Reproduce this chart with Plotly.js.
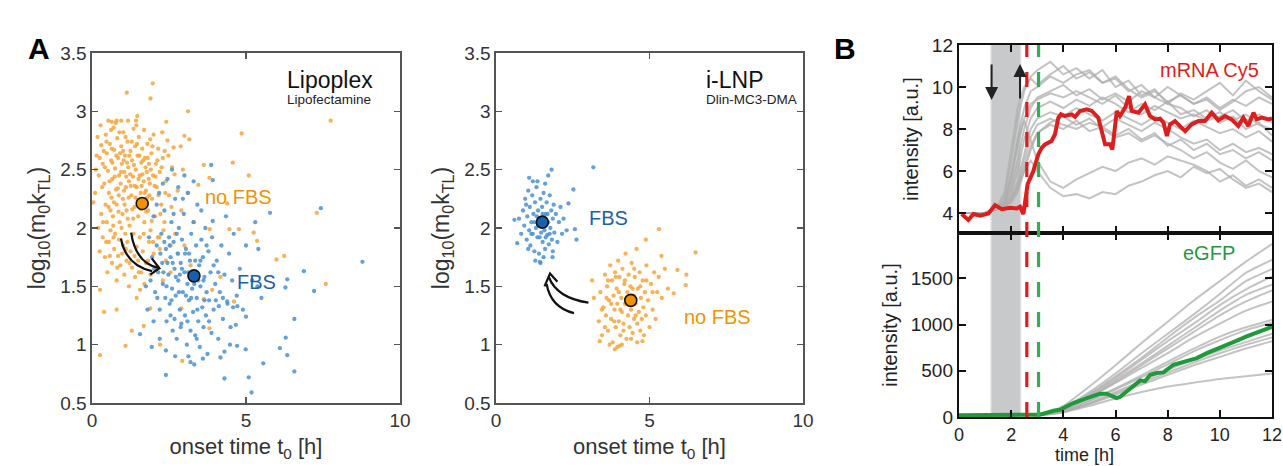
<!DOCTYPE html>
<html><head><meta charset="utf-8">
<script src="https://cdn.plot.ly/plotly-3.0.1.min.js"></script>
<style>html,body{margin:0;padding:0;background:#fff}#chart{width:1283px;height:466px}</style>
</head><body><div id="chart"></div>
<script>
// ---------- Panel A: Lipoplex (Lipofectamine) ----------
const lipoNoFBS = [
[0.15,2.62],[0.22,2.45],[0.30,2.71],[0.35,2.55],[0.40,2.38],[0.45,2.80],[0.48,2.64],[0.52,2.49],[0.55,2.30],[0.58,2.72],
[0.60,2.15],[0.62,2.58],[0.66,2.42],[0.70,2.86],[0.72,2.67],[0.75,2.51],[0.78,2.33],[0.80,2.20],[0.82,2.77],[0.85,2.60],
[0.88,2.45],[0.90,2.05],[0.93,2.38],[0.95,2.70],[0.97,2.55],[1.00,2.25],[1.02,2.82],[1.05,2.48],[1.07,2.62],[1.10,2.35],
[1.12,2.15],[1.15,2.74],[1.18,2.52],[1.20,2.40],[1.22,2.02],[1.25,2.66],[1.28,2.28],[1.30,2.58],[1.33,2.44],[1.35,2.85],
[1.38,2.18],[1.40,2.70],[1.42,2.50],[1.45,2.35],[1.48,2.62],[1.50,2.10],[1.52,2.78],[1.55,2.45],[1.58,2.30],[1.60,2.56],
[1.63,2.68],[1.65,2.20],[1.68,2.40],[1.70,2.05],[1.72,2.60],[1.75,2.32],[1.78,2.48],[1.80,2.72],[1.82,2.15],[1.85,2.55],
[1.88,2.38],[1.90,1.98],[1.93,2.64],[1.95,2.25],[1.98,2.45],[2.00,2.80],[2.05,2.10],[2.08,2.55],[2.10,2.35],[2.15,2.68],
[2.18,1.92],[2.20,2.48],[2.25,2.20],[2.30,2.60],[2.35,2.05],[2.40,2.40],[2.45,2.75],[2.50,2.28],[2.55,1.85],[2.60,2.52],
[0.20,2.00],[0.25,1.80],[0.30,2.12],[0.35,1.92],[0.42,1.75],[0.48,2.05],[0.50,1.62],[0.55,1.88],[0.60,1.98],[0.65,1.70],
[0.68,2.10],[0.72,1.82],[0.75,1.95],[0.80,1.55],[0.85,1.76],[0.88,1.90],[0.92,1.68],[0.96,2.00],[1.00,1.85],[1.05,1.60],
[1.08,1.95],[1.12,1.72],[1.15,1.88],[1.20,1.50],[1.25,1.80],[1.30,1.66],[1.35,1.95],[1.40,1.58],[1.45,1.84],[1.50,1.72],
[1.55,1.92],[1.60,1.62],[1.65,1.80],[1.70,1.52],[1.75,1.70],[1.85,1.88],[1.90,1.60],[2.00,1.78],[2.10,1.65],[2.20,1.82],
[2.30,1.55],[2.40,1.72],[2.55,1.62],[2.70,1.95],[2.80,1.78],[2.90,2.15],[3.00,1.85],[3.10,2.30],[3.20,1.68],[3.30,2.05],
[0.10,2.30],[0.18,2.78],[0.28,2.88],[0.38,2.66],[0.44,2.20],[0.53,2.92],[0.63,2.26],[0.69,2.02],[0.77,2.90],[0.84,2.34],
[0.91,2.64],[0.99,2.12],[1.04,2.32],[1.09,2.78],[1.14,2.56],[1.19,2.26],[1.24,2.46],[1.29,2.74],[1.34,2.08],[1.39,2.36],
[1.44,2.88],[1.49,2.24],[1.54,2.62],[1.59,2.16],[1.64,2.46],[1.69,2.84],[1.74,2.52],[1.79,2.26],[1.84,2.42],[1.89,2.76],
[1.94,2.06],[2.03,2.36],[2.12,2.58],[2.22,2.12],[2.28,2.82],[2.38,2.30],[2.48,2.62],[2.58,2.18],[2.68,2.46],[2.78,2.32],
[2.88,2.70],[2.95,2.50],
[0.12,2.50],[0.25,2.60],[0.33,2.35],[0.42,2.52],[0.47,2.74],[0.57,2.40],[0.64,2.68],[0.71,2.22],[0.74,2.44],[0.79,2.62],
[0.86,2.14],[0.89,2.82],[0.94,2.48],[1.01,2.66],[1.06,2.20],[1.11,2.44],[1.16,2.08],[1.21,2.62],[1.26,2.36],[1.31,2.16],
[1.36,2.54],[1.41,2.26],[1.46,2.72],[1.51,2.42],[1.56,2.18],[1.61,2.36],[1.66,2.58],[1.71,2.30],[1.76,2.14],[1.81,2.60],
[1.86,2.28],[1.91,2.50],[1.96,2.70],[2.06,2.44],[2.16,2.28],[2.26,2.52],[2.36,2.66],[0.36,2.05],[0.46,1.88],[0.58,1.76],
[0.70,1.92],[0.82,1.66],[0.98,1.78],[1.10,1.82],[1.22,1.70],[1.38,1.76],[1.52,1.62],[1.68,1.95],[1.82,1.72],[1.98,1.88],
[2.14,1.92],[2.32,1.98],[0.54,2.18],[0.66,2.56],[0.87,2.28],[1.03,2.58],[1.17,2.92],[1.47,2.96],[0.62,2.84],[0.95,2.92],
[1.97,3.24],[1.13,3.16],[1.90,3.11],[3.12,3.00],[7.75,2.92],[4.86,2.81],[0.64,2.91],[0.80,2.92],[1.43,2.92],[2.41,2.91],
[3.00,2.79],[3.16,2.76],[2.65,2.69],[3.63,2.54],[4.57,2.56],[5.09,2.45],[3.81,2.43],[3.45,2.37],[0.04,2.22],[7.30,2.13],
[4.39,2.21],[4.77,1.99],[5.25,1.96],[3.82,1.99],[4.46,1.99],[5.36,1.89],[5.99,1.73],[6.24,1.76],[7.59,1.52],[4.17,1.58],
[0.26,1.47],[0.39,1.28],[0.80,1.30],[0.26,0.91],[1.09,0.99],[1.29,1.12],[1.68,1.16],[2.93,0.86],[2.21,1.00],[3.81,1.14],
[3.63,1.39],[3.90,1.47],[2.90,1.31],[1.89,1.31],[1.56,1.47],[1.45,1.40],[4.61,1.37]
];
const lipoFBS = [
[1.85,1.92],[1.90,1.55],[1.95,1.75],[2.00,2.10],[2.05,1.45],[2.10,1.85],[2.15,1.62],[2.18,2.30],[2.20,1.30],[2.25,1.95],
[2.28,1.70],[2.30,1.52],[2.35,2.15],[2.38,1.40],[2.40,1.82],[2.42,1.20],[2.45,2.42],[2.48,1.60],[2.50,1.92],[2.52,1.35],
[2.55,1.75],[2.58,2.05],[2.60,1.48],[2.62,1.12],[2.65,1.88],[2.68,1.65],[2.70,2.25],[2.72,1.42],[2.75,1.05],[2.78,1.78],
[2.80,1.55],[2.82,2.00],[2.85,1.30],[2.88,1.70],[2.90,1.18],[2.92,1.90],[2.95,1.45],[2.98,2.12],[3.00,1.62],[3.02,1.25],
[3.05,1.82],[3.08,1.00],[3.10,1.52],[3.12,2.30],[3.15,1.38],[3.18,1.72],[3.20,1.12],[3.22,1.95],[3.25,1.48],[3.28,1.28],
[3.30,2.05],[3.32,1.62],[3.35,1.08],[3.38,1.85],[3.40,1.40],[3.42,2.20],[3.45,1.20],[3.48,1.68],[3.50,0.98],[3.52,1.50],
[3.55,1.90],[3.58,1.32],[3.60,1.75],[3.62,1.15],[3.65,1.58],[3.68,2.00],[3.70,1.25],[3.72,1.45],[3.75,0.92],[3.78,1.80],
[3.80,1.38],[3.85,1.62],[3.88,1.10],[3.90,1.92],[3.95,1.30],[4.00,1.52],[4.05,1.72],[4.10,1.05],[4.15,1.45],[4.20,1.85],
[4.25,1.22],[4.30,1.60],[4.35,2.10],[4.40,1.35],[4.45,1.78],[4.50,1.15],[4.55,1.55],[4.60,1.95],[4.70,1.42],[4.80,1.65],
[4.90,1.30],[5.00,1.85],[5.20,1.55],[5.30,2.05],[5.50,1.40],
[2.30,2.38],[2.60,2.50],[2.80,2.35],[3.00,2.45],[3.30,2.40],[2.10,2.20],[1.75,1.50],[1.80,1.30],[2.00,1.20],[2.20,1.05],
[2.40,0.95],[2.70,0.90],[3.20,0.85],[3.60,0.88],[2.55,1.25],[2.85,1.60],[3.15,1.78],[3.45,1.55],[3.05,1.42],[2.75,1.95],
[2.45,1.70],[3.35,1.72],[3.65,1.38],[3.95,1.68],[4.25,1.40],
[2.02,1.65],[2.12,1.40],[2.22,1.78],[2.32,1.62],[2.42,1.50],[2.52,1.85],[2.62,1.70],[2.72,1.58],[2.82,1.45],[2.92,1.65],
[3.02,1.78],[3.12,1.62],[3.22,1.40],[3.32,1.52],[3.42,1.30],[3.52,1.72],[3.62,1.55],[3.72,1.85],[2.58,1.38],[2.68,1.22],
[2.88,1.15],[3.10,1.20],[3.40,1.05],[3.80,1.20],[4.02,1.38],[2.35,1.88],[2.65,2.12],[2.95,2.25],[3.55,2.15],[4.10,1.62],
[8.78,1.71],[7.43,2.17],[5.78,2.13],[7.21,1.46],[6.88,1.63],[6.34,1.56],[6.28,1.49],[6.57,1.22],[6.29,1.06],[6.10,0.97],
[6.34,0.91],[6.57,0.77],[5.56,0.84],[5.18,0.59],[5.09,0.72],[4.30,0.71],[4.99,0.96],[5.00,1.24],[4.72,1.33],[4.58,1.32],
[4.12,1.33],[4.39,1.37],[5.40,1.82],[5.37,1.50],[3.92,2.06],[3.87,2.54],[3.92,2.41],[2.40,0.74],[3.32,0.83],[3.13,0.90],
[1.94,0.98],[1.56,1.09],[4.17,0.89],[4.30,0.94],[4.67,1.17],[4.71,0.99],[4.48,1.00]
];
const lipoNoFBSMean = [1.63, 2.21];
const lipoFBSMean = [3.31, 1.59];

// ---------- Panel A: i-LNP (Dlin-MC3-DMA) ----------
const lnpFBS = [
[0.75,2.08],[0.82,1.95],[0.88,2.15],[0.92,2.02],[0.95,2.25],[1.00,1.90],[1.02,2.10],[1.05,2.32],[1.08,1.98],[1.10,2.18],
[1.12,1.85],[1.15,2.05],[1.18,2.28],[1.20,1.95],[1.22,2.12],[1.25,1.80],[1.27,2.22],[1.30,2.00],[1.32,2.35],[1.35,1.92],
[1.37,2.15],[1.40,1.78],[1.42,2.08],[1.45,2.25],[1.47,1.96],[1.50,2.18],[1.52,1.88],[1.55,2.30],[1.57,2.02],[1.60,1.82],
[1.62,2.12],[1.65,2.22],[1.67,1.94],[1.70,2.05],[1.72,1.86],[1.75,2.28],[1.77,2.00],[1.80,2.15],[1.82,1.90],[1.85,2.08],
[1.88,2.20],[1.90,1.96],[1.95,2.12],[2.00,1.88],[2.05,2.05],[2.10,2.18],[2.15,1.95],[2.20,2.08],[2.30,1.98],[1.28,1.72],
[1.45,1.70],[1.55,1.75],[1.35,2.40],[1.60,2.38],[1.70,2.45],[1.20,2.40],[1.05,1.82],[0.98,2.20],[1.48,2.05],[1.38,2.02],
[1.58,1.98],[1.42,1.92],[1.62,1.92],[1.52,2.12],[1.33,2.10],[1.68,2.12],[1.25,2.05],[1.75,1.95],[1.15,1.95],[1.85,1.80],
[3.17,2.52],[1.81,2.50],[1.08,2.43],[2.52,2.33],[2.62,1.90],[2.57,1.99],[2.36,2.21],[0.69,1.87],[0.60,2.07],[1.43,1.71],
[1.84,1.75]
];
const lnpNoFBS = [
[3.35,1.20],[3.40,1.45],[3.45,1.08],[3.50,1.32],[3.55,1.60],[3.58,1.25],[3.62,1.50],[3.65,1.12],[3.68,1.38],[3.72,1.68],
[3.75,1.22],[3.78,1.55],[3.80,1.02],[3.83,1.42],[3.86,1.30],[3.88,1.62],[3.90,1.15],[3.93,1.48],[3.95,1.35],[3.98,1.72],
[4.00,1.20],[4.02,1.58],[4.05,1.08],[4.08,1.40],[4.10,1.28],[4.12,1.65],[4.15,1.18],[4.18,1.52],[4.20,1.35],[4.22,1.78],
[4.25,1.05],[4.28,1.45],[4.30,1.25],[4.32,1.60],[4.35,1.15],[4.38,1.50],[4.40,1.30],[4.42,1.70],[4.45,1.10],[4.48,1.42],
[4.50,1.22],[4.52,1.58],[4.55,1.35],[4.58,1.82],[4.60,1.18],[4.62,1.48],[4.65,1.28],[4.68,1.62],[4.70,1.12],[4.72,1.40],
[4.75,1.22],[4.78,1.55],[4.80,1.32],[4.82,1.08],[4.85,1.45],[4.88,1.25],[4.90,1.68],[4.95,1.38],[5.00,1.15],[5.05,1.52],
[5.10,1.30],[5.15,1.62],[5.20,1.22],[5.25,1.45],[5.30,1.58],[5.40,1.40],[5.50,1.65],[5.60,1.48],[3.70,1.00],[3.95,0.98],
[4.10,1.00],[4.40,1.05],[4.60,1.02],[3.60,1.40],[3.85,1.20],[4.05,1.30],[4.25,1.40],[4.45,1.48],[4.15,1.12],[4.35,1.38],
[4.55,1.25],[3.75,1.35],[4.00,1.45],[4.20,1.55],[4.50,1.65],[4.70,1.50],[4.90,1.55],[5.10,1.45],[3.90,1.58],[3.65,1.55],
[3.55,1.15],[3.45,1.30],
[5.31,1.99],[6.50,1.79],[4.88,1.90],[5.39,1.76],[5.91,1.64],[6.20,1.60],[6.18,1.51],[5.79,1.44],[3.38,1.03],[4.03,0.99],
[3.87,0.96],[4.77,1.03],[3.13,1.55],[3.19,1.40]
];
const lnpFBSMean = [1.51, 2.05];
const lnpNoFBSMean = [4.39, 1.38];

// ---------- Panel B: single-cell time courses ----------
const cy5Time = [0.10,0.36,0.55,0.81,1.13,1.38,1.64,1.96,2.21,2.34,2.47,2.63,2.85,3.04,3.17,3.30,3.55,3.68,3.81,3.91,4.06,4.32,4.45,4.64,4.90,5.09,5.34,5.47,5.60,5.79,5.88,6.05,6.17,6.37,6.52,6.62,6.88,7.13,7.32,7.52,7.71,7.84,7.97,8.09,8.28,8.47,8.67,8.92,9.18,9.43,9.69,9.94,10.20,10.45,10.71,10.90,11.09,11.29,11.41,11.61,11.86,12.0];
const cy5Mean = [3.95,3.67,3.95,3.87,3.98,4.38,4.18,4.25,4.22,4.30,3.95,5.37,6.00,6.79,7.10,7.27,7.43,7.75,8.54,8.70,8.62,8.70,8.58,8.86,8.94,8.86,8.54,7.83,7.27,7.27,7.03,8.86,8.62,9.02,9.57,8.86,8.78,9.17,8.62,8.46,8.49,8.30,7.67,8.22,8.38,8.14,7.90,8.22,8.38,8.38,8.78,8.41,8.62,8.46,8.14,8.54,8.14,8.78,8.46,8.54,8.46,8.50];
const cellTime = [0,1,1.5,1.75,2,2.25,2.5,2.75,3,3.5,4,4.5,5,5.5,6,6.5,7,7.5,8,8.5,9,9.5,10,10.5,11,11.5,12];
const cy5Cells = [
[4,4,4.3,4.8,6.5,8.5,9.8,10.5,10.8,11.2,10.6,10.9,10.4,10.8,10.0,10.3,9.6,9.9,9.2,9.7,9.4,9.8,10.2,9.6,10.3,9.8,9.4],
[4,4,4.2,4.6,5.8,7.5,9.0,9.8,10.0,10.5,10.2,10.6,10.8,10.2,10.5,9.9,9.5,9.8,9.3,9.6,9.2,9.5,9.0,9.4,9.1,9.5,9.2],
[4,4,4.2,4.5,5.2,6.5,8.0,9.0,9.5,9.8,10.1,9.6,9.9,9.4,9.7,9.3,9.8,9.5,10.0,9.6,9.2,9.4,8.9,9.3,9.8,10.0,9.5],
[4,4,4.3,4.4,5.0,6.0,7.5,8.5,9.0,9.3,9.0,9.4,9.1,9.5,9.2,8.8,9.2,8.9,9.3,8.7,8.9,8.5,8.8,8.4,8.7,8.2,8.0],
[4,4,4.2,4.4,4.8,5.5,6.8,8.0,8.5,8.8,8.6,9.0,8.7,8.4,8.8,8.5,8.2,8.6,8.3,8.0,8.4,8.1,7.8,8.0,7.6,7.9,7.4],
[4,4,4.2,4.3,4.6,5.3,6.5,7.6,8.2,8.5,8.2,8.0,8.3,8.1,8.5,8.2,7.9,8.3,8.0,7.6,7.3,7.5,7.0,7.3,6.9,7.1,6.8],
[4,4,4.2,4.3,4.5,5.0,6.0,7.0,7.8,8.2,8.0,8.4,7.9,8.1,7.7,8.0,7.5,7.8,7.2,7.5,7.0,7.3,6.8,7.0,6.6,6.9,6.5],
[4,4,4.3,4.4,5.5,7.5,8.4,7.5,6.5,5.5,5.2,5.6,5.9,6.2,6.0,6.4,6.6,6.3,6.7,6.5,6.3,6.0,5.5,5.8,5.3,5.6,5.2],
[4,4,4.2,4.3,4.6,5.2,6.0,6.5,6.0,5.2,4.8,4.9,4.7,5.0,4.9,5.3,5.5,5.8,6.0,5.7,6.2,5.9,6.1,5.6,5.2,5.4,5.0],
[4,4,4.4,5.0,7.0,9.0,10.0,10.4,10.1,10.6,11.0,10.4,10.7,10.2,10.4,9.8,10.1,9.5,9.2,9.0,8.6,8.9,8.3,8.6,8.0,8.3,7.7],
[4,4,4.2,4.4,4.7,5.2,6.2,7.2,7.8,8.3,8.6,8.2,8.5,8.0,7.6,7.8,7.4,7.7,7.3,7.0,6.6,6.9,6.4,6.1,6.5,6.0,5.7],
[4,4,4.3,4.6,5.8,7.2,8.5,9.2,9.4,9.7,9.5,9.8,9.5,9.2,9.6,9.0,8.7,9.1,8.8,8.5,8.7,8.4,8.6,8.9,8.4,8.7,8.3]
];
const gfpTime = [0,1,2,2.6,3.1,3.62,3.87,4.38,4.89,5.40,5.66,6.04,6.17,6.56,6.95,7.13,7.33,7.58,7.84,8.22,8.73,9.12,9.50,10.01,10.52,11.03,11.54,12.0];
const gfpMean = [20,20,20,20,25,68,79,151,205,252,252,205,216,313,396,385,457,475,482,565,608,637,691,745,810,871,925,975];
const gfpCellTime = [0,1,2,2.5,3,3.5,4,5,6,7,8,9,10,11,12];
const gfpCells = [
[20,20,20,22,30,60,120,330,560,800,1030,1260,1470,1680,1870],
[20,20,20,22,28,50,100,270,470,690,900,1110,1330,1560,1700],
[20,20,20,22,28,48,95,250,440,640,860,1070,1260,1470,1600],
[20,20,20,21,26,45,90,240,420,620,820,1010,1210,1380,1520],
[20,20,20,21,25,42,85,225,400,580,770,960,1150,1320,1430],
[20,20,20,21,25,40,80,215,380,560,740,920,1100,1250,1370],
[20,20,20,21,25,40,80,210,370,530,690,860,1010,1150,1250],
[20,20,20,21,24,38,70,180,310,450,600,740,870,970,1050],
[20,20,20,21,24,36,66,170,300,430,570,710,830,940,1020],
[20,20,20,21,23,34,60,150,270,390,510,620,720,810,900],
[20,20,20,21,23,33,58,145,255,370,480,590,690,780,860],
[20,20,20,21,23,32,55,140,240,350,455,560,650,740,820],
[20,20,20,21,23,30,50,120,200,270,330,370,410,440,470]
];
const addTime = [1.25, 2.34];   // medium exchange (grey band)
const onsetCy5 = 2.6;           // red dashed line
const onsetGFP = 3.05;          // green dashed line

// ---------- styles ----------
const FONT = 'Liberation Sans, Arial, sans-serif';
const ORANGE = '#F6A53A', BLUE = '#4A90D0';
const ORANGE_M = '#F39200', BLUE_M = '#1660B0';
const RED = '#DD1E1E', GREEN = '#1E9A3A', GREYLINE = 'rgba(175,175,175,0.75)';

function pts(arr, axx, axy, color){
  return {type:'scatter', mode:'markers', x:arr.map(p=>p[0]), y:arr.map(p=>p[1]), xaxis:axx, yaxis:axy,
    marker:{size:4.3, color:color, opacity:0.85}, hoverinfo:'skip', showlegend:false};
}
function meanPt(p, axx, axy, color){
  return {type:'scatter', mode:'markers', x:[p[0]], y:[p[1]], xaxis:axx, yaxis:axy,
    marker:{size:12, color:color, line:{color:'#111', width:1.6}}, showlegend:false, hoverinfo:'skip'};
}
const traces = [];
traces.push(pts(lipoNoFBS,'x','y',ORANGE));
traces.push(pts(lipoFBS,'x','y',BLUE));
traces.push(meanPt(lipoNoFBSMean,'x','y',ORANGE_M));
traces.push(meanPt(lipoFBSMean,'x','y',BLUE_M));
traces.push(pts(lnpFBS,'x2','y2',BLUE));
traces.push(pts(lnpNoFBS,'x2','y2',ORANGE));
traces.push(meanPt(lnpFBSMean,'x2','y2',BLUE_M));
traces.push(meanPt(lnpNoFBSMean,'x2','y2',ORANGE_M));
cy5Cells.forEach(c=>traces.push({type:'scatter',mode:'lines',x:cellTime,y:c,xaxis:'x3',yaxis:'y3',line:{color:GREYLINE,width:2},showlegend:false,hoverinfo:'skip'}));
traces.push({type:'scatter',mode:'lines',x:cy5Time,y:cy5Mean,xaxis:'x3',yaxis:'y3',line:{color:RED,width:4},showlegend:false});
gfpCells.forEach(c=>traces.push({type:'scatter',mode:'lines',x:gfpCellTime,y:c,xaxis:'x4',yaxis:'y4',line:{color:GREYLINE,width:2,shape:'spline',smoothing:0.6},showlegend:false,hoverinfo:'skip'}));
traces.push({type:'scatter',mode:'lines',x:gfpTime,y:gfpMean,xaxis:'x4',yaxis:'y4',line:{color:GREEN,width:4},showlegend:false});

const W = 1283, H = 466;
const px = v => v / W, py = v => 1 - v / H;
const tickFont = {family:FONT, size:19, color:'#333'};
const boxA = {showline:true, mirror:'ticks', linecolor:'#555', linewidth:1.6, ticks:'inside', ticklen:6, tickcolor:'#555', tickwidth:1.4,
  showgrid:false, zeroline:false, tickfont:tickFont, automargin:false};
const boxB = Object.assign({}, boxA, {linecolor:'#111', linewidth:2.2, tickcolor:'#111', tickwidth:2, ticklen:7, tickfont:{family:FONT,size:19,color:'#222'}});

const yTitleA = {text:'log<sub>10</sub>(m<sub>0</sub>k<sub>TL</sub>)', font:{family:FONT,size:23,color:'#333'}, standoff:8};
const xTitleA = {text:'onset time t<sub>0</sub> [h]', font:{family:FONT,size:22,color:'#333'}, standoff:8};
const B_BOTTOM = 417;

const layout = {
  width:W, height:H, margin:{l:0,r:0,t:0,b:0}, paper_bgcolor:'#fff', plot_bgcolor:'rgba(0,0,0,0)',
  font:{family:FONT}, showlegend:false,
  xaxis: Object.assign({}, boxA, {domain:[px(92),px(400)], range:[0,10], tickvals:[0,5,10], title:xTitleA, anchor:'y'}),
  yaxis: Object.assign({}, boxA, {domain:[py(403),py(53)], range:[0.5,3.5], tickvals:[0.5,1,1.5,2,2.5,3,3.5], ticktext:['0.5','1','1.5','2','2.5','3','3.5'], title:yTitleA, anchor:'x'}),
  xaxis2: Object.assign({}, boxA, {domain:[px(496),px(803)], range:[0,10], tickvals:[0,5,10], title:xTitleA, anchor:'y2'}),
  yaxis2: Object.assign({}, boxA, {domain:[py(403),py(53)], range:[0.5,3.5], tickvals:[0.5,1,1.5,2,2.5,3,3.5], ticktext:['0.5','1','1.5','2','2.5','3','3.5'], title:yTitleA, anchor:'x2'}),
  xaxis3: Object.assign({}, boxB, {domain:[px(959),px(1272)], range:[0,12], tickvals:[0,2,4,6,8,10,12], showticklabels:false, anchor:'y3'}),
  yaxis3: Object.assign({}, boxB, {domain:[py(233),py(45)], range:[3.05,12], tickvals:[4,6,8,10,12], anchor:'x3',
    title:{text:'intensity [a.u.]', font:{family:FONT,size:20,color:'#222'}, standoff:8}}),
  xaxis4: Object.assign({}, boxB, {domain:[px(959),px(1272)], range:[0,12], tickvals:[0,2,4,6,8,10,12], anchor:'y4', ticklabelstandoff:0,
    tickfont:{family:FONT,size:18,color:'#222'}}),
  yaxis4: Object.assign({}, boxB, {domain:[py(B_BOTTOM),py(233)], range:[0,1990], tickvals:[0,500,1000,1500], anchor:'x4',
    title:{text:'intensity [a.u.]', font:{family:FONT,size:20,color:'#222'}, standoff:8}}),
  shapes: [
    {type:'rect', xref:'x3', yref:'paper', x0:addTime[0]-0.05, x1:addTime[1]+0.05, y0:py(B_BOTTOM), y1:py(45), fillcolor:'#e2e2e2', line:{width:0}, layer:'below'},
    {type:'rect', xref:'x3', yref:'paper', x0:addTime[0], x1:addTime[1], y0:py(B_BOTTOM), y1:py(45), fillcolor:'#c8c9ca', line:{width:0}, layer:'below'},
    {type:'line', xref:'x3', yref:'paper', x0:onsetCy5, x1:onsetCy5, y0:py(B_BOTTOM), y1:py(45), line:{color:RED, width:3.2, dash:'15px,15px'}},
    {type:'line', xref:'x3', yref:'paper', x0:onsetGFP, x1:onsetGFP, y0:py(B_BOTTOM), y1:py(45), line:{color:'#2DB34A', width:3.2, dash:'15px,15px'}},
    {type:'path', xref:'x', yref:'y', path:'M 1.27,1.96 Q 1.42,1.70 2.14,1.66', line:{color:'#111', width:2.2}},
    {type:'path', xref:'x', yref:'y', path:'M 0.94,1.91 Q 1.10,1.68 1.95,1.63', line:{color:'#111', width:2.2}},
    {type:'path', xref:'x', yref:'y', path:'M 1.94,1.74 L 2.19,1.655 L 1.89,1.60', line:{color:'#111', width:2.2}},
    {type:'path', xref:'x2', yref:'y2', path:'M 3.01,1.36 Q 1.98,1.40 1.72,1.58', line:{color:'#111', width:2.2}},
    {type:'path', xref:'x2', yref:'y2', path:'M 2.54,1.27 Q 1.78,1.32 1.65,1.52', line:{color:'#111', width:2.2}},
    {type:'path', xref:'x2', yref:'y2', path:'M 1.58,1.50 L 1.76,1.61 L 2.00,1.54', line:{color:'#111', width:2.2}}
  ],
  annotations: [
    {text:'<b>A</b>', xref:'paper', yref:'paper', x:px(26), y:py(30), showarrow:false, font:{family:FONT,size:30,color:'#000'}},
    {text:'<b>B</b>', xref:'paper', yref:'paper', x:px(858), y:py(30), showarrow:false, font:{family:FONT,size:30,color:'#000'}},
    {text:'time [h]', xref:'paper', yref:'paper', x:px(1115), y:py(466), yanchor:'bottom', showarrow:false, borderpad:0, font:{family:FONT,size:18,color:'#222'}},
    {text:'Lipoplex', xref:'x', yref:'y', x:6.26, y:3.27, xanchor:'left', showarrow:false, font:{family:FONT,size:23,color:'#111'}},
    {text:'Lipofectamine', xref:'x', yref:'y', x:6.26, y:3.10, xanchor:'left', showarrow:false, font:{family:FONT,size:13.5,color:'#222'}},
    {text:'no FBS', xref:'x', yref:'y', x:4.76, y:2.27, showarrow:false, font:{family:FONT,size:20,color:ORANGE_M}},
    {text:'FBS', xref:'x', yref:'y', x:5.34, y:1.54, showarrow:false, font:{family:FONT,size:20,color:'#1A5FAD'}},
    {text:'i-LNP', xref:'x2', yref:'y2', x:6.78, y:3.27, xanchor:'left', showarrow:false, font:{family:FONT,size:23,color:'#111'}},
    {text:'Dlin-MC3-DMA', xref:'x2', yref:'y2', x:6.78, y:3.10, xanchor:'left', showarrow:false, font:{family:FONT,size:13.5,color:'#222'}},
    {text:'FBS', xref:'x2', yref:'y2', x:3.65, y:2.09, showarrow:false, font:{family:FONT,size:20,color:'#1A5FAD'}},
    {text:'no FBS', xref:'x2', yref:'y2', x:7.2, y:1.24, showarrow:false, font:{family:FONT,size:20,color:ORANGE_M}},
    {text:'mRNA Cy5', xref:'x3', yref:'y3', x:11.58, y:10.8, xanchor:'right', showarrow:false, font:{family:FONT,size:20,color:RED}},
    {text:'eGFP', xref:'x4', yref:'y4', x:10.66, y:1771, xanchor:'right', showarrow:false, font:{family:FONT,size:20,color:GREEN}},
    {text:'', xref:'x3', yref:'y3', x:addTime[0], y:9.38, axref:'x3', ayref:'y3', ax:addTime[0], ay:11.14, showarrow:true, arrowhead:2, arrowsize:1.3, arrowwidth:2, arrowcolor:'#222'},
    {text:'', xref:'x3', yref:'y3', x:addTime[1], y:11.1, axref:'x3', ayref:'y3', ax:addTime[1], ay:9.38, showarrow:true, arrowhead:2, arrowsize:1.3, arrowwidth:2, arrowcolor:'#222'}
  ]
};
Plotly.newPlot('chart', traces, layout, {staticPlot:true, displayModeBar:false});
</script></body></html>
